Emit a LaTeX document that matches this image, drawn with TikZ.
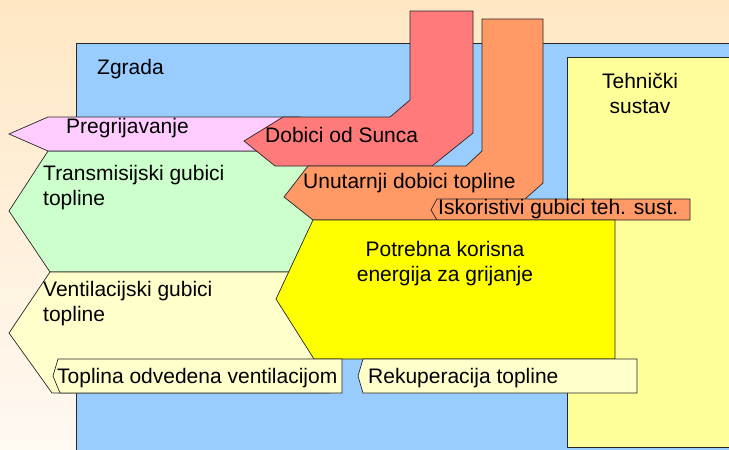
\documentclass[tikz,border=0pt]{standalone}
\usepackage{fontspec}
\setmainfont{Liberation Sans}
\begin{document}
\begin{tikzpicture}[x=1pt,y=-1pt,
        flow/.style={draw=black!85, line width=0.7pt, line join=miter},
        lbl/.style={font=\fontsize{21}{25}\selectfont, inner sep=0pt, anchor=base west, align=left}]
    \useasboundingbox (0,0) rectangle (729,450);
    \clip (0,0) rectangle (729,450);
    % Background
    \shade [top color={rgb,255:red,255;green,231;blue,196}, bottom color={rgb,255:red,255;green,249;blue,242}] (0,0) rectangle (729,450);

    % Building and technical system
    \filldraw [flow, fill={rgb,255:red,153;green,204;blue,255}] (76,43) rectangle (740,460);
    \filldraw [flow, fill={rgb,255:red,255;green,255;blue,153}] (567,57) rectangle (740,447);

    % Losses on the left
    \filldraw [flow, fill={rgb,255:red,204;green,255;blue,204}] (48,151) -- (9,211) -- (50,272) -- (330,272) -- (330,151) -- cycle;
    \filldraw [flow, fill={rgb,255:red,255;green,255;blue,204}] (50,272) -- (9,333) -- (52,393) -- (330,393) -- (330,272) -- cycle;
    \filldraw [flow, fill={rgb,255:red,255;green,204;blue,255}] (48,117) -- (9,134) -- (48,151) -- (300,151) -- (300,117) -- cycle;

    % Gains from above
    \filldraw [flow, fill={rgb,255:red,255;green,122;blue,122}] (410,11) -- (473,11) -- (473,133) -- (432,166) -- (275,166) -- (244,141) -- (283,117) -- (390,117) -- (410,100) -- cycle;
    \filldraw [flow, fill={rgb,255:red,255;green,153;blue,102}] (482,19) -- (543,19) -- (543,183) -- (525,199) -- (500,220) -- (313,220) -- (284,197) -- (308,166) -- (466,166) -- (482,151) -- cycle;
    \filldraw [flow, fill={rgb,255:red,255;green,153;blue,102}] (437,199) -- (690,199) -- (690,220) -- (437,220) -- (431,210) -- cycle;

    % Useful energy and ventilation bands
    \filldraw [flow, fill={rgb,255:red,255;green,255;blue,0}] (313,220) -- (615,220) -- (615,359) -- (314,359) -- (276,299) -- cycle;
    \filldraw [flow, fill={rgb,255:red,255;green,255;blue,204}] (58,359) -- (342,359) -- (342,393) -- (60,393) -- (53,376) -- cycle;
    \filldraw [flow, fill={rgb,255:red,255;green,255;blue,204}] (363,359) -- (637,359) -- (637,393) -- (363,393) -- (358,376) -- cycle;

    % Labels (two-line labels sit on their last baseline)
    \node [lbl] (zgrada) at (97,74) {Zgrada};
    \node [lbl, align=center, anchor=base] (tehnicki) at (640,113) {Tehnički\\sustav};
    \node [lbl] (pregr) at (66,133) {Pregrijavanje};
    \node [lbl] (sunce) at (265,142) {Dobici od Sunca};
    \node [lbl] (trans) at (43,205) {Transmisijski gubici\\topline};
    \node [lbl] (unutarnji) at (303,188) {Unutarnji dobici topline};
    \node [lbl] (iskor) at (438,214) {Iskoristivi gubici teh. sust.};
    \node [lbl, align=center, anchor=base] (potrebna) at (445,281) {Potrebna korisna\\energija za grijanje};
    \node [lbl] (vent) at (43,321) {Ventilacijski gubici\\topline};
    \node [lbl] (toplina) at (57,383) {Toplina odvedena ventilacijom};
    \node [lbl] (rekup) at (368,383) {Rekuperacija topline};
\end{tikzpicture}
\end{document}
